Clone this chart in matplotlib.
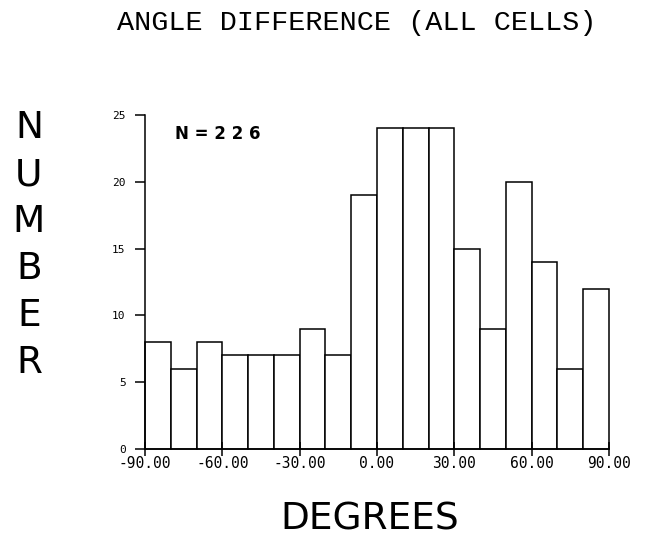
import numpy as np
from matplotlib import pyplot as plt

# histogram of angle differences, 10 degree bins from -90 to 90
bin_edges = [-90, -80, -70, -60, -50, -40, -30, -20, -10, 0,
             10, 20, 30, 40, 50, 60, 70, 80, 90]
counts = [8, 6, 8, 7, 7, 7, 9, 7, 19, 24, 24, 24, 15, 9, 20, 14, 6, 12]
x_ticks = [-90, -60, -30, 0, 30, 60, 90]
x_tick_labels = ["-90.00", "-60.00", "-30.00", "0.00", "30.00", "60.00", "90.00"]
y_ticks = [0, 5, 10, 15, 20, 25]
n_total = sum(counts)

fig = plt.figure(figsize=(6.51, 5.36), dpi=100)
ax = fig.add_axes([0.2227, 0.1623, 0.7128, 0.6231])

lefts = np.array(bin_edges[:-1])
widths = np.diff(bin_edges)
bars = ax.bar(lefts, counts, width=widths, align='edge', color='white',
              edgecolor='black', linewidth=1.1)
for b in bars:
    b.set_clip_on(False)

ax.set_xlim(-90, 90)
ax.set_ylim(0, 25)
ax.spines['top'].set_visible(False)
ax.spines['right'].set_visible(False)
ax.spines['left'].set_linewidth(1.1)
ax.spines['bottom'].set_linewidth(1.1)

ax.set_xticks(x_ticks)
ax.set_xticklabels(x_tick_labels, family='DejaVu Sans Mono', fontsize=10.5)
ax.set_yticks(y_ticks)
ax.set_yticklabels([str(v) for v in y_ticks], family='DejaVu Sans Mono', fontsize=8)
ax.tick_params(axis='x', direction='inout', length=10, width=1.1, pad=0)
ax.tick_params(axis='y', direction='out', length=7, width=1.1, pad=7)

ax.text(0.065, 0.943, "N = " + " ".join(str(n_total)), transform=ax.transAxes,
        ha='left', va='center', fontsize=12, fontweight='bold', family='DejaVu Sans')

# title and axis labels
fig.text(0.548, 0.957, "ANGLE DIFFERENCE (ALL CELLS)", ha='center', va='center',
         family='Liberation Mono', fontsize=20.5)
fig.text(0.568, 0.0317, "DEGREES", ha='center', va='center',
         family='DejaVu Sans', fontsize=27)

for i, ch in enumerate("NUMBER"):
    y_px = 128 + 47 * i
    fig.text(29 / 651, 1 - y_px / 536, ch, ha='center', va='center',
             family='DejaVu Sans', fontsize=27)

fig.savefig("out.png", dpi=100)
